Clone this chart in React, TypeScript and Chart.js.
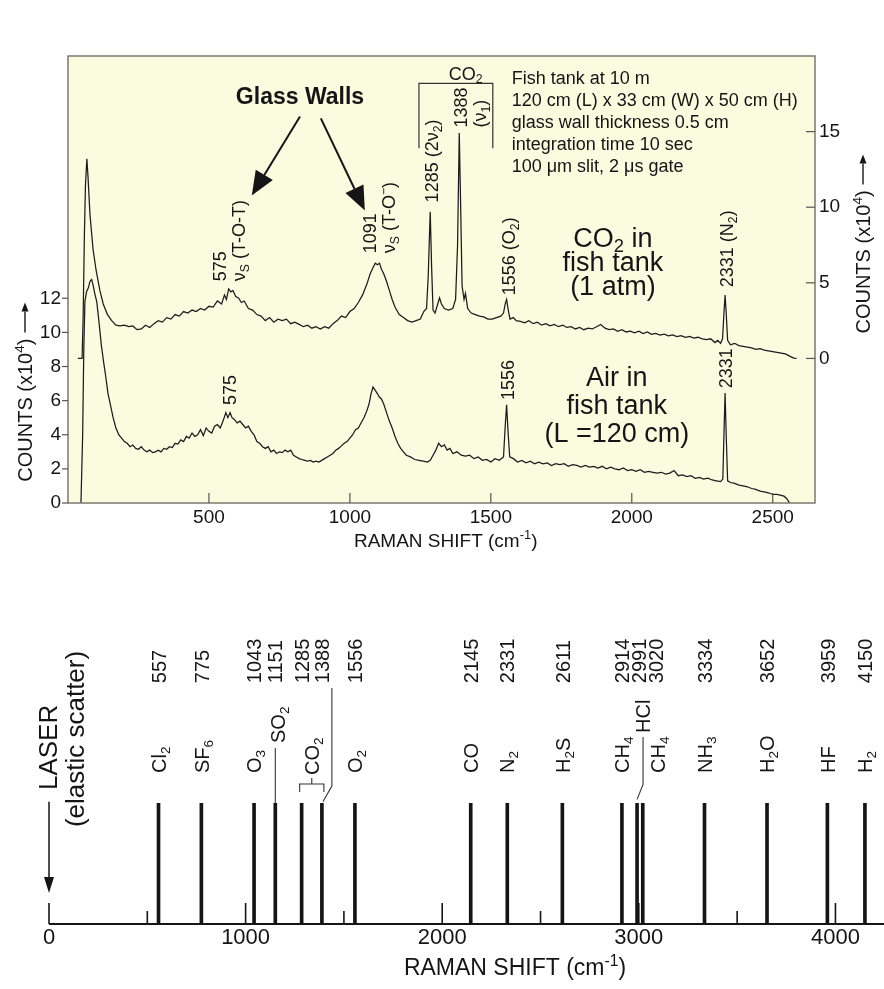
import React, { useEffect, useRef } from 'react';
import { Chart, registerables } from 'chart.js';

Chart.register(...registerables);

const FONT = "'Liberation Sans', Arial, Helvetica, sans-serif";
const INK = '#151515';
const PLOT_BG = '#fbfbdf';
const FRAME = '#7a7a72';

// ---------------- Top panel: measured spectra ----------------
// CO2 in fish tank (1 atm) — right axis, counts x10^4
const co2Shift = [
  35, 50, 54, 58, 62, 67, 71, 78, 89, 100,
  113, 125, 140, 155, 170, 185, 200, 215, 230, 245,
  260, 275, 290, 305, 320, 335, 350, 365, 380, 395,
  410, 425, 440, 455, 470, 485, 500, 515, 530, 545,
  555, 562, 570, 578, 585, 595, 605, 615, 625, 640,
  655, 670, 685, 700, 715, 730, 745, 760, 775, 790,
  805, 820, 835, 850, 865, 880, 895, 910, 925, 940,
  955, 970, 985, 1000, 1015, 1030, 1045, 1060, 1072, 1082,
  1090, 1098, 1105, 1112, 1120, 1130, 1140, 1150, 1160, 1175,
  1190, 1205, 1220, 1235, 1250, 1262, 1272, 1278, 1285, 1290,
  1295, 1302, 1310, 1318, 1325, 1335, 1350, 1365, 1375, 1382,
  1388, 1393, 1398, 1405, 1410, 1418, 1430, 1445, 1460, 1475,
  1490, 1505, 1520, 1535, 1545, 1551, 1556, 1561, 1568, 1580,
  1590, 1605, 1620, 1635, 1650, 1665, 1680, 1695, 1710, 1725,
  1740, 1755, 1770, 1785, 1800, 1815, 1830, 1845, 1860, 1875,
  1890, 1905, 1920, 1935, 1950, 1965, 1980, 1995, 2010, 2025,
  2040, 2055, 2070, 2085, 2100, 2115, 2130, 2145, 2160, 2175,
  2190, 2205, 2220, 2235, 2250, 2265, 2280, 2295, 2305, 2315,
  2322, 2327, 2331, 2335, 2340, 2350, 2365, 2380, 2395, 2410,
  2425, 2440, 2455, 2470, 2485, 2500, 2515, 2530, 2545, 2560,
  2575, 2585,
];
const co2Counts = [
  0.0, 0.0, 3.0, 8.0, 11.5, 13.2, 12.0, 9.5, 7.2, 5.8,
  4.5, 3.6, 2.9, 2.5, 2.2, 2.15, 2.2, 2.1, 2.15, 1.9,
  1.95, 2.2, 2.05, 2.3, 2.5, 2.4, 2.7, 2.6, 2.9, 2.8,
  3.1, 3.0, 3.2, 3.1, 3.3, 3.2, 3.45, 3.4, 3.8, 3.6,
  4.2, 3.9, 4.6, 4.4, 4.5, 4.1, 4.0, 3.7, 3.8, 3.3,
  3.2, 2.9, 2.8, 2.5, 2.7, 2.4, 2.6, 2.5, 2.6, 2.3,
  2.4, 2.25, 2.1, 2.2, 2.0, 2.1, 1.95, 2.1, 2.0, 2.3,
  2.5, 2.8, 2.7, 3.1, 3.3, 3.7, 4.2, 4.9, 5.6, 6.0,
  6.3, 6.2, 6.3, 5.9, 5.6, 5.1, 4.5, 3.9, 3.4, 2.9,
  2.7, 2.5, 2.4, 2.5, 2.6, 3.1, 3.3, 5.5, 9.7, 6.0,
  3.2, 3.0, 3.5, 4.0, 3.6, 3.3, 3.2, 3.3, 3.9, 7.5,
  14.9, 10.0, 4.8, 3.9, 4.3, 3.3, 3.0, 2.9, 2.8, 2.75,
  2.6, 2.6, 2.7, 2.8, 3.0, 3.6, 3.9, 3.3, 2.6, 2.7,
  2.5, 2.45, 2.35, 2.5, 2.3, 2.4, 2.2, 2.3, 2.15, 2.25,
  2.1, 2.2, 2.05, 2.1, 1.95, 2.05, 1.9, 2.0, 1.95, 2.1,
  2.25, 2.0, 1.9, 1.95, 1.8, 1.9, 1.75, 1.8, 1.7, 1.8,
  1.65, 1.75, 1.6, 1.65, 1.55, 1.6, 1.5, 1.55, 1.45, 1.5,
  1.4, 1.45, 1.35, 1.4, 1.3, 1.25, 1.3, 1.05, 1.2, 1.0,
  1.3, 3.0, 4.2, 3.0, 1.2, 0.9, 1.0, 0.85, 0.8, 0.75,
  0.7, 0.6, 0.65, 0.55, 0.5, 0.45, 0.4, 0.35, 0.3, 0.15,
  0.02, 0.0,
];

// Air in fish tank (L = 120 cm) — left axis, counts x10^4
const airShift = [
  46, 52, 56, 60, 66, 72, 78, 84, 90, 96,
  102, 110, 118, 126, 134, 142, 150, 160, 170, 180,
  190, 200, 210, 220, 230, 240, 250, 260, 270, 280,
  290, 300, 310, 320, 330, 340, 350, 360, 370, 380,
  390, 400, 410, 420, 430, 440, 450, 460, 470, 480,
  490, 500, 510, 520, 530, 540, 550, 560, 567, 575,
  582, 590, 600, 610, 620, 630, 640, 650, 660, 670,
  680, 690, 700, 710, 720, 730, 740, 750, 760, 770,
  780, 790, 800, 810, 820, 830, 840, 850, 860, 870,
  880, 890, 900, 910, 920, 930, 940, 950, 960, 970,
  980, 990, 1000, 1010, 1020, 1030, 1040, 1050, 1060, 1068,
  1075, 1082, 1090, 1098, 1105, 1112, 1120, 1130, 1140, 1150,
  1160, 1170, 1180, 1190, 1200, 1215, 1230, 1245, 1260, 1275,
  1285, 1295, 1305, 1315, 1325, 1335, 1345, 1355, 1365, 1380,
  1395, 1410, 1425, 1440, 1455, 1470, 1485, 1500, 1515, 1530,
  1545, 1551, 1556, 1561, 1567, 1580, 1595, 1610, 1625, 1640,
  1655, 1670, 1685, 1700, 1715, 1730, 1745, 1760, 1775, 1790,
  1805, 1820, 1835, 1850, 1865, 1880, 1895, 1910, 1925, 1940,
  1955, 1970, 1985, 2000, 2015, 2030, 2045, 2060, 2075, 2090,
  2105, 2120, 2135, 2150, 2165, 2180, 2195, 2210, 2225, 2240,
  2255, 2270, 2285, 2300, 2315, 2323, 2327, 2331, 2335, 2340,
  2350, 2365, 2380, 2395, 2410, 2425, 2440, 2455, 2470, 2485,
  2500, 2515, 2530, 2540, 2550, 2560,
];
const airCounts = [
  0.0, 4.0, 9.0, 11.8, 12.4, 12.6, 13.0, 13.1, 12.7, 12.2,
  11.8, 10.6, 9.3, 8.3, 7.4, 6.4, 5.8, 5.0, 4.4, 4.0,
  3.8, 3.6, 3.5, 3.3, 3.4, 3.2, 3.15, 3.3, 3.1, 3.0,
  3.1, 2.95, 3.0, 3.1, 3.0, 3.2, 3.15, 3.3, 3.25, 3.5,
  3.45, 3.7, 3.6, 3.9, 3.8, 4.1, 3.9, 4.0, 4.3, 3.95,
  4.4, 4.2, 4.1, 4.5, 4.6, 4.4, 4.8, 5.3, 5.0, 5.3,
  5.0, 4.9, 4.7, 4.8, 4.6, 4.4, 4.5, 4.2, 4.0, 3.6,
  3.5, 3.3, 3.2, 3.3, 3.0, 3.1, 2.9, 3.0, 2.95, 3.1,
  3.0, 3.1, 2.8, 2.7, 2.6, 2.55, 2.5, 2.45, 2.5, 2.4,
  2.45, 2.4, 2.5, 2.6, 2.7, 2.8, 2.9, 3.1, 3.2, 3.35,
  3.5, 3.6, 3.8, 4.0, 4.3, 4.4, 4.7, 5.0, 5.4, 5.8,
  6.4, 6.8, 6.6, 6.4, 6.2, 6.1, 5.8, 5.3, 4.8, 4.4,
  3.9, 3.5, 3.2, 3.0, 2.8, 2.7, 2.55, 2.5, 2.45, 2.4,
  2.5, 2.8, 3.1, 3.5, 3.3, 3.4, 3.1, 3.2, 2.9, 3.0,
  2.8, 2.75, 2.8, 2.6, 2.7, 2.5, 2.55, 2.4, 2.6, 2.5,
  2.7, 4.5, 5.75, 4.2, 2.7, 2.6, 2.4, 2.5, 2.35, 2.45,
  2.3, 2.4, 2.3, 2.35, 2.2, 2.3, 2.25, 2.3, 2.15, 2.25,
  2.2, 2.1, 2.2, 2.1, 2.15, 2.05, 2.15, 2.0, 2.1, 2.0,
  1.95, 2.05, 1.9, 1.95, 1.85, 1.95, 1.8, 1.85, 1.8, 1.75,
  1.8, 1.7, 1.75, 1.9, 1.6, 1.65, 1.55, 1.6, 1.45, 1.5,
  1.4, 1.45, 1.35, 1.3, 1.25, 1.4, 4.0, 6.45, 4.0, 1.3,
  1.2, 1.15, 1.05, 1.0, 0.95, 0.85, 0.8, 0.7, 0.65, 0.6,
  0.5, 0.5, 0.45, 0.4, 0.25, 0.0,
];

const topXTicks = [500, 1000, 1500, 2000, 2500];
const leftYTicks = [0, 2, 4, 6, 8, 10, 12];
const rightYTicks = [0, 5, 10, 15];

const infoLines = [
  'Fish tank at 10 m',
  '120 cm (L) x 33 cm (W) x 50 cm (H)',
  'glass wall thickness 0.5 cm',
  'integration time 10 sec',
  '100 μm slit, 2 μs gate',
];

// ---------------- Bottom panel: Raman shifts of gases ----------------
const gasShifts = [557, 775, 1043, 1151, 1285, 1388, 1556, 2145, 2331, 2611, 2914, 2991, 3020, 3334, 3652, 3959, 4150];
const gasNames = ['Cl_2', 'SF_6', 'O_3', 'SO_2', 'CO_2', 'CO_2', 'O_2', 'CO', 'N_2', 'H_2S', 'CH_4', 'HCl', 'CH_4', 'NH_3', 'H_2O', 'HF', 'H_2'];
const gasHeights = [1, 1, 1, 1, 1, 1, 1, 1, 1, 1, 1, 1, 1, 1, 1, 1, 1];
const bottomXTicks = [0, 1000, 2000, 3000, 4000];
const bottomMarks = [0, 500, 1000, 1500, 2000, 2500, 3000, 3500, 4000];

// ---------------- rich text helpers ----------------
type Run = { t: string; k: 'n' | 'sub' | 'sup' };

function parseRich(s: string): Run[] {
  const runs: Run[] = [];
  let buf = '';
  let i = 0;
  const flush = () => {
    if (buf) { runs.push({ t: buf, k: 'n' }); buf = ''; }
  };
  while (i < s.length) {
    const c = s[i];
    if ((c === '_' || c === '^') && i + 1 < s.length) {
      flush();
      let t: string;
      if (s[i + 1] === '{') {
        const end = s.indexOf('}', i + 2);
        t = s.slice(i + 2, end);
        i = end + 1;
      } else {
        t = s[i + 1];
        i += 2;
      }
      runs.push({ t, k: c === '_' ? 'sub' : 'sup' });
    } else {
      buf += c;
      i++;
    }
  }
  flush();
  return runs;
}

function setFont(ctx: CanvasRenderingContext2D, size: number, weight: string) {
  ctx.font = `${weight} ${size}px ${FONT}`;
}

function richWidth(ctx: CanvasRenderingContext2D, text: string, size: number, weight = 'normal') {
  let w = 0;
  for (const r of parseRich(text)) {
    setFont(ctx, r.k === 'n' ? size : size * 0.68, weight);
    w += ctx.measureText(r.t).width;
  }
  return w;
}

type RichOpt = { size: number; weight?: string; align?: 'left' | 'center' | 'right'; rotate?: boolean; color?: string };

function drawRich(ctx: CanvasRenderingContext2D, text: string, x: number, y: number, o: RichOpt) {
  const weight = o.weight || 'normal';
  const runs = parseRich(text);
  ctx.save();
  ctx.translate(x, y);
  if (o.rotate) ctx.rotate(-Math.PI / 2);
  ctx.fillStyle = o.color || INK;
  ctx.textAlign = 'left';
  ctx.textBaseline = 'alphabetic';
  const w = richWidth(ctx, text, o.size, weight);
  let cx = o.align === 'center' ? -w / 2 : o.align === 'right' ? -w : 0;
  const base = o.size * 0.36;
  for (const r of runs) {
    const fs = r.k === 'n' ? o.size : o.size * 0.68;
    setFont(ctx, fs, weight);
    const dy = r.k === 'sub' ? o.size * 0.2 : r.k === 'sup' ? -o.size * 0.4 : 0;
    ctx.fillText(r.t, cx, base + dy);
    cx += ctx.measureText(r.t).width;
  }
  ctx.restore();
  return w;
}

function line(ctx: CanvasRenderingContext2D, x1: number, y1: number, x2: number, y2: number) {
  ctx.beginPath();
  ctx.moveTo(x1, y1);
  ctx.lineTo(x2, y2);
  ctx.stroke();
}

function arrow(ctx: CanvasRenderingContext2D, x1: number, y1: number, x2: number, y2: number, head: number, half: number, width: number) {
  const ang = Math.atan2(y2 - y1, x2 - x1);
  const bx = x2 - head * Math.cos(ang);
  const by = y2 - head * Math.sin(ang);
  ctx.lineWidth = width;
  line(ctx, x1, y1, bx, by);
  ctx.beginPath();
  ctx.moveTo(x2, y2);
  ctx.lineTo(bx + half * Math.sin(ang), by - half * Math.cos(ang));
  ctx.lineTo(bx - half * Math.sin(ang), by + half * Math.cos(ang));
  ctx.closePath();
  ctx.fill();
}

// vertical "COUNTS (x10^4) ⟶" title, centred at (cx, cy)
function countsTitle(ctx: CanvasRenderingContext2D, cx: number, cy: number) {
  const size = 20;
  const text = 'COUNTS (x10^4)';
  const gap = 6;
  const len = 30;
  ctx.save();
  ctx.translate(cx, cy);
  ctx.rotate(-Math.PI / 2);
  const w = richWidth(ctx, text, size);
  const start = -(w + gap + len) / 2;
  drawRich(ctx, text, start, 0, { size });
  ctx.strokeStyle = INK;
  ctx.fillStyle = INK;
  arrow(ctx, start + w + gap, 0, start + w + gap + len, 0, 9, 3.5, 1.4);
  ctx.restore();
}

// ---------------- plugins ----------------
const topDecor = {
  id: 'topDecor',
  beforeDraw(chart: any) {
    const { ctx, chartArea: a } = chart;
    ctx.save();
    ctx.fillStyle = PLOT_BG;
    ctx.fillRect(a.left, a.top, a.right - a.left, a.bottom - a.top);
    ctx.restore();
  },
  afterDraw(chart: any) {
    const { ctx, chartArea: a, scales } = chart;
    const X = (v: number) => scales.x.getPixelForValue(v);
    const YL = (v: number) => scales.y.getPixelForValue(v);
    const YR = (v: number) => scales.y2.getPixelForValue(v);
    ctx.save();
    // frame
    ctx.strokeStyle = FRAME;
    ctx.lineWidth = 1.5;
    ctx.strokeRect(a.left, a.top, a.right - a.left, a.bottom - a.top);
    // tick marks
    ctx.strokeStyle = '#555';
    ctx.lineWidth = 1.2;
    topXTicks.forEach((v) => line(ctx, X(v), a.bottom, X(v), a.bottom - 10));
    leftYTicks.forEach((v) => line(ctx, a.left - 6, YL(v), a.left, YL(v)));
    rightYTicks.forEach((v) => line(ctx, a.right - 9, YR(v), a.right, YR(v)));

    // peak labels (rotated, reading upwards)
    const peakNotes: { x: number; y: number; lines: string[] }[] = [
      { x: 539, y: 13.0, lines: ['575', 'ν_S (T-O-T)'] },
      { x: 1071, y: 14.64, lines: ['1091', 'ν_S (T-O^−)'] },
      { x: 1291, y: 17.62, lines: ['1285 (2ν_2)'] },
      { x: 1394, y: 22.01, lines: ['1388', '(ν_1)'] },
      { x: 1564, y: 12.18, lines: ['1556 (O_2)'] },
      { x: 2337, y: 12.65, lines: ['2331 (N_2)'] },
      { x: 574, y: 5.74, lines: ['575'] },
      { x: 1560, y: 6.03, lines: ['1556'] },
      { x: 2333, y: 6.73, lines: ['2331'] },
    ];
    peakNotes.forEach((n) => {
      n.lines.forEach((t, i) => drawRich(ctx, t, X(n.x) + i * 19, YL(n.y), { size: 18, rotate: true }));
    });

    // CO2 bracket
    ctx.strokeStyle = '#333';
    ctx.lineWidth = 1.2;
    ctx.beginPath();
    ctx.moveTo(X(1245), YL(20.8));
    ctx.lineTo(X(1245), YL(24.6));
    ctx.lineTo(X(1507), YL(24.6));
    ctx.lineTo(X(1507), YL(20.8));
    ctx.stroke();
    drawRich(ctx, 'CO_2', X(1411), YL(25.2), { size: 18, align: 'center' });

    // info block
    infoLines.forEach((t, i) => drawRich(ctx, t, X(1574), YL(24.94) + i * 22, { size: 18 }));

    // sample labels
    ['CO_2 in', 'fish tank', '(1 atm)'].forEach((t, i) =>
      drawRich(ctx, t, X(1933), YL(15.57) + i * 24, { size: 27, align: 'center' }));
    ['Air in', 'fish tank', '(L =120 cm)'].forEach((t, i) =>
      drawRich(ctx, t, X(1947), YL(7.44) + i * 28, { size: 27, align: 'center' }));

    // Glass walls
    drawRich(ctx, 'Glass Walls', X(823), YL(23.89), { size: 23, weight: 'bold', align: 'center' });
    ctx.strokeStyle = INK;
    ctx.fillStyle = INK;
    arrow(ctx, X(823), YL(22.66), X(652), YL(18.03), 24, 10, 2);
    arrow(ctx, X(897), YL(22.54), X(1053), YL(17.15), 24, 10, 2);

    // axis titles
    drawRich(ctx, 'RAMAN SHIFT (cm^{-1})', X(1340), a.bottom + 37, { size: 19, align: 'center' });
    countsTitle(ctx, 25, YL(6.5));
    countsTitle(ctx, 863, YR(7.57));
    ctx.restore();
  },
};

function spread(xs: number[], gap: number) {
  const out: number[] = [];
  let prev = -Infinity;
  xs.forEach((x) => {
    const p = Math.max(x, prev + gap);
    out.push(p);
    prev = p;
  });
  return out;
}

const bottomDecor = {
  id: 'bottomDecor',
  afterDraw(chart: any) {
    const { ctx, chartArea: a, scales } = chart;
    const X = (v: number) => scales.x.getPixelForValue(v);
    const Y = (v: number) => scales.y.getPixelForValue(v);
    ctx.save();
    ctx.strokeStyle = INK;
    ctx.fillStyle = INK;
    // axis line
    ctx.lineWidth = 2.2;
    line(ctx, X(0), a.bottom, a.right, a.bottom);
    // tick marks
    ctx.lineWidth = 1.6;
    bottomMarks.forEach((v) => line(ctx, X(v), a.bottom, X(v), a.bottom - (v % 1000 === 0 ? 21 : 13)));
    // laser
    const lx = X(0);
    arrow(ctx, lx, Y(1.01), lx, Y(0.256), 16, 5, 1.5);
    drawRich(ctx, 'LASER', lx - 1, Y(1.107), { size: 26, rotate: true });
    drawRich(ctx, '(elastic scatter)', lx + 26, Y(1.529), { size: 26, rotate: true, align: 'center' });

    // wavenumber labels
    const numX = spread(gasShifts.map((v) => X(v)), 17);
    gasShifts.forEach((v, i) => drawRich(ctx, String(v), numX[i], Y(1.99), { size: 20, rotate: true }));

    // molecule labels
    const rowIdx: number[] = [];
    gasNames.forEach((n, i) => { if (n !== 'SO_2' && n !== 'HCl' && n !== 'CO_2') rowIdx.push(i); });
    const rowX = spread(rowIdx.map((i) => X(gasShifts[i])), 36);
    rowIdx.forEach((i, k) => drawRich(ctx, gasNames[i], rowX[k], Y(1.248), { size: 20, rotate: true }));

    ctx.lineWidth = 1.1;
    ctx.strokeStyle = '#333';
    gasNames.forEach((n, i) => {
      const sx = X(gasShifts[i]);
      if (n === 'SO_2') {
        drawRich(ctx, n, sx + 3, Y(1.496), { size: 20, rotate: true });
        line(ctx, sx, Y(1.455), sx, Y(1.0));
      }
      if (n === 'HCl') {
        drawRich(ctx, n, sx + 6, Y(1.579), { size: 20, rotate: true });
        ctx.beginPath();
        ctx.moveTo(sx + 6, Y(1.546));
        ctx.lineTo(sx + 6, Y(1.153));
        ctx.lineTo(sx, Y(1.03));
        ctx.stroke();
      }
    });
    // CO2 pair with bracket
    const c1 = gasNames.indexOf('CO_2');
    const c2 = gasNames.lastIndexOf('CO_2');
    const x1 = X(gasShifts[c1]);
    const x2 = X(gasShifts[c2]);
    const cx = (x1 + x2) / 2;
    drawRich(ctx, 'CO_2', cx, Y(1.231), { size: 20, rotate: true });
    ctx.beginPath();
    ctx.moveTo(x1 - 2, Y(1.09));
    ctx.lineTo(x1 - 2, Y(1.157));
    ctx.lineTo(x2 + 2, Y(1.157));
    ctx.lineTo(x2 + 2, Y(1.09));
    ctx.moveTo(cx, Y(1.157));
    ctx.lineTo(cx, Y(1.207));
    ctx.stroke();
    ctx.beginPath();
    ctx.moveTo(numX[c2] + 10, Y(1.95));
    ctx.lineTo(numX[c2] + 10, Y(1.14));
    ctx.lineTo(x2 + 1, Y(1.01));
    ctx.stroke();

    // axis title
    drawRich(ctx, 'RAMAN SHIFT (cm^{-1})', X(2370), a.bottom + 43, { size: 23, align: 'center' });
    ctx.restore();
  },
};

const plainTick = (v: any) => String(v);

// ---------------- component ----------------
export default function App() {
  const topRef = useRef<HTMLCanvasElement>(null);
  const botRef = useRef<HTMLCanvasElement>(null);

  useEffect(() => {
    const lineStyle = { borderColor: '#1c1c1c', borderWidth: 1.25, pointRadius: 0, tension: 0, fill: false };
    const top = new Chart(topRef.current as HTMLCanvasElement, {
      type: 'line',
      data: {
        datasets: [
          {
            label: 'CO2 in fish tank (1 atm)',
            data: co2Shift.map((x, i) => ({ x, y: co2Counts[i] })),
            yAxisID: 'y2',
            ...lineStyle,
          },
          {
            label: 'Air in fish tank (L = 120 cm)',
            data: airShift.map((x, i) => ({ x, y: airCounts[i] })),
            yAxisID: 'y',
            ...lineStyle,
          },
        ],
      },
      options: {
        responsive: false,
        maintainAspectRatio: false,
        animation: false,
        events: [],
        layout: { padding: { top: 56, left: 0, right: 0, bottom: 0 } },
        plugins: { legend: { display: false }, tooltip: { enabled: false }, title: { display: false } },
        scales: {
          x: {
            type: 'linear',
            min: 0,
            max: 2650,
            afterFit: (s: any) => { s.height = 57; },
            afterBuildTicks: (s: any) => { s.ticks = topXTicks.map((v) => ({ value: v })); },
            grid: { display: false, drawTicks: false },
            border: { display: false },
            ticks: { font: { size: 19, family: FONT }, color: INK, padding: 3, maxRotation: 0, autoSkip: false, callback: plainTick },
          },
          y: {
            type: 'linear',
            position: 'left',
            min: 0,
            max: 26.2,
            afterFit: (s: any) => { s.width = 68; },
            afterBuildTicks: (s: any) => { s.ticks = leftYTicks.map((v) => ({ value: v })); },
            grid: { display: false, drawTicks: false },
            border: { display: false },
            ticks: { font: { size: 19, family: FONT }, color: INK, padding: 7, autoSkip: false, callback: plainTick },
          },
          y2: {
            type: 'linear',
            position: 'right',
            min: -9.56,
            max: 20.0,
            afterFit: (s: any) => { s.width = 69; },
            afterBuildTicks: (s: any) => { s.ticks = rightYTicks.map((v) => ({ value: v })); },
            grid: { display: false, drawTicks: false },
            border: { display: false },
            ticks: { font: { size: 19, family: FONT }, color: INK, padding: 4, autoSkip: false, callback: plainTick },
          },
        },
      },
      plugins: [topDecor],
    } as any);

    const bottom = new Chart(botRef.current as HTMLCanvasElement, {
      type: 'bar',
      data: {
        datasets: [
          {
            label: 'Raman shifts of gases',
            data: gasShifts.map((x, i) => ({ x, y: gasHeights[i] })),
            backgroundColor: INK,
            barThickness: 3,
            grouped: false,
          },
        ],
      },
      options: {
        responsive: false,
        maintainAspectRatio: false,
        animation: false,
        events: [],
        layout: { padding: { top: 203, left: 49, right: 0, bottom: 0 } },
        plugins: { legend: { display: false }, tooltip: { enabled: false }, title: { display: false } },
        scales: {
          x: {
            type: 'linear',
            min: 0,
            max: 4247,
            offset: false,
            afterFit: (s: any) => { s.height = 65; },
            afterBuildTicks: (s: any) => { s.ticks = bottomXTicks.map((v) => ({ value: v })); },
            grid: { display: false, drawTicks: false, offset: false },
            border: { display: false },
            ticks: { font: { size: 22, family: FONT }, color: INK, padding: 1, maxRotation: 0, autoSkip: false, callback: plainTick },
          },
          y: { display: false, min: 0, max: 1 },
        },
      },
      plugins: [bottomDecor],
    } as any);

    return () => {
      top.destroy();
      bottom.destroy();
    };
  }, []);

  return (
    <div style={{ position: 'absolute', left: 0, top: 0, width: 884, height: 989, background: '#fff', overflow: 'hidden' }}>
      <canvas ref={topRef} width={884} height={560} style={{ position: 'absolute', left: 0, top: 0 }} />
      <canvas ref={botRef} width={884} height={389} style={{ position: 'absolute', left: 0, top: 600 }} />
    </div>
  );
}
